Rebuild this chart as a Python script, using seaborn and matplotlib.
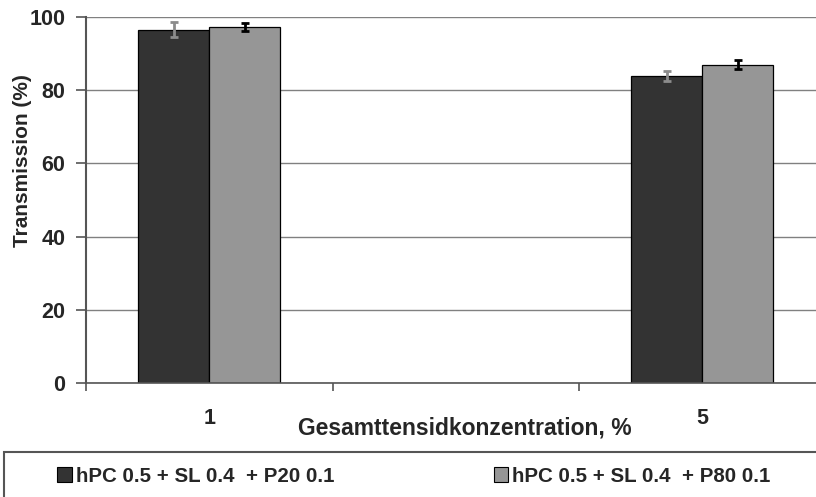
import matplotlib
matplotlib.use("Agg")
import matplotlib.pyplot as plt
import seaborn as sns
import pandas as pd
import numpy as np
from matplotlib.patches import Rectangle, Patch

# ---- data ----
concentrations = ["1", "5"]
category_order = ["1", "", "5"]
series_names = ["hPC 0.5 + SL 0.4  + P20 0.1", "hPC 0.5 + SL 0.4  + P80 0.1"]
p20_values = [96.5, 83.9]
p80_values = [97.2, 87.0]
p20_errors = [2.1, 1.3]
p80_errors = [1.1, 1.3]
y_ticks = [0, 20, 40, 60, 80, 100]

bar_colors = ["#333333", "#969696"]
err_colors = ["#8c8c8c", "#000000"]

df = pd.DataFrame({
    "conc": concentrations * 2,
    "series": [series_names[0]] * 2 + [series_names[1]] * 2,
    "value": p20_values + p80_values,
    "err": p20_errors + p80_errors,
})

sns.set_style("white")
plt.rcParams["font.family"] = ["Liberation Sans", "DejaVu Sans"]
plt.rcParams["font.weight"] = "bold"

W, H = 816, 497
fig = plt.figure(figsize=(W / 100, H / 100), dpi=100)
ax_left, ax_right, ax_top, ax_bottom = 86, 816, 17, 383
ax = fig.add_axes([ax_left / W, 1 - ax_bottom / H, (ax_right - ax_left) / W, (ax_bottom - ax_top) / H])

sns.barplot(data=df, x="conc", y="value", hue="series", order=category_order,
            hue_order=series_names, palette=bar_colors, width=0.576,
            edgecolor="black", linewidth=0.9, errorbar=None, legend=False, ax=ax)

# error bars on top of bars (positions taken from the drawn bars)
bars = [p for p in ax.patches if isinstance(p, Rectangle) and np.isfinite(p.get_height()) and p.get_height() > 0]
for b in bars:
    xc = b.get_x() + b.get_width() / 2
    cat_idx = int(round(xc))
    hue_idx = 0 if xc < cat_idx else 1
    row = df[(df["conc"] == category_order[cat_idx]) & (df["series"] == series_names[hue_idx])]
    if row.empty:
        continue
    ax.errorbar([xc], [b.get_height()], yerr=[row["err"].values[0]], fmt="none",
                ecolor=err_colors[hue_idx], elinewidth=2.0, capsize=3, capthick=2.0, zorder=5)

# axes
ax.set_ylim(0, 100)
ax.set_xlim(-0.5, -0.5 + (ax_right - ax_left) / 246.5)
ax.set_yticks(y_ticks)
ax.set_yticklabels([str(t) for t in y_ticks], fontsize=15.5, fontweight="bold")
ax.yaxis.grid(True, color="#808080", linewidth=1.0)
ax.set_axisbelow(True)

ax.set_xticks([-0.5, 0.5, 1.5])
ax.set_xticklabels([])
ax.set_xticks([0, 2], minor=True)
ax.set_xticklabels(concentrations, minor=True, fontsize=15.5, fontweight="bold")
ax.tick_params(axis="x", which="major", direction="out", length=6, width=1.2, color="#555555", bottom=True)
ax.tick_params(axis="x", which="minor", length=0, pad=18)
ax.tick_params(axis="y", direction="out", length=7, width=1.2, color="#555555", pad=8, left=True)

for s in ["top", "right"]:
    ax.spines[s].set_visible(False)
ax.spines["left"].set_color("#555555")
ax.spines["left"].set_linewidth(1.5)
ax.spines["bottom"].set_color("#555555")
ax.spines["bottom"].set_linewidth(1.2)

ax.set_xlabel("Gesamttensidkonzentration, %", fontsize=16.5, fontweight="bold")
ax.xaxis.set_label_coords((465 - ax_left) / (ax_right - ax_left), (ax_bottom - 417) / (ax_bottom - ax_top))
ax.set_ylabel("Transmission (%)", fontsize=15, fontweight="bold")
ax.yaxis.label.set_verticalalignment("center")
ax.yaxis.set_label_coords((23 - ax_left) / (ax_right - ax_left), (ax_bottom - 161) / (ax_bottom - ax_top))

# legend frame
fig.patches.append(Rectangle((4 / W, -0.1), 1.1, 1 - 452 / H + 0.1, transform=fig.transFigure,
                             fill=False, edgecolor="#555555", linewidth=1.5, clip_on=False))
handles = [Patch(facecolor=c, edgecolor="black", linewidth=0.8) for c in bar_colors]
fig.legend(handles, series_names, loc="center left", bbox_to_anchor=(47 / W, 1 - 476 / H),
           ncol=2, frameon=False, prop={"weight": "bold", "size": 14.8},
           handlelength=0.7, handleheight=0.7, handletextpad=0.2, columnspacing=7.75, borderpad=0)

fig.savefig("out.png", dpi=100)
